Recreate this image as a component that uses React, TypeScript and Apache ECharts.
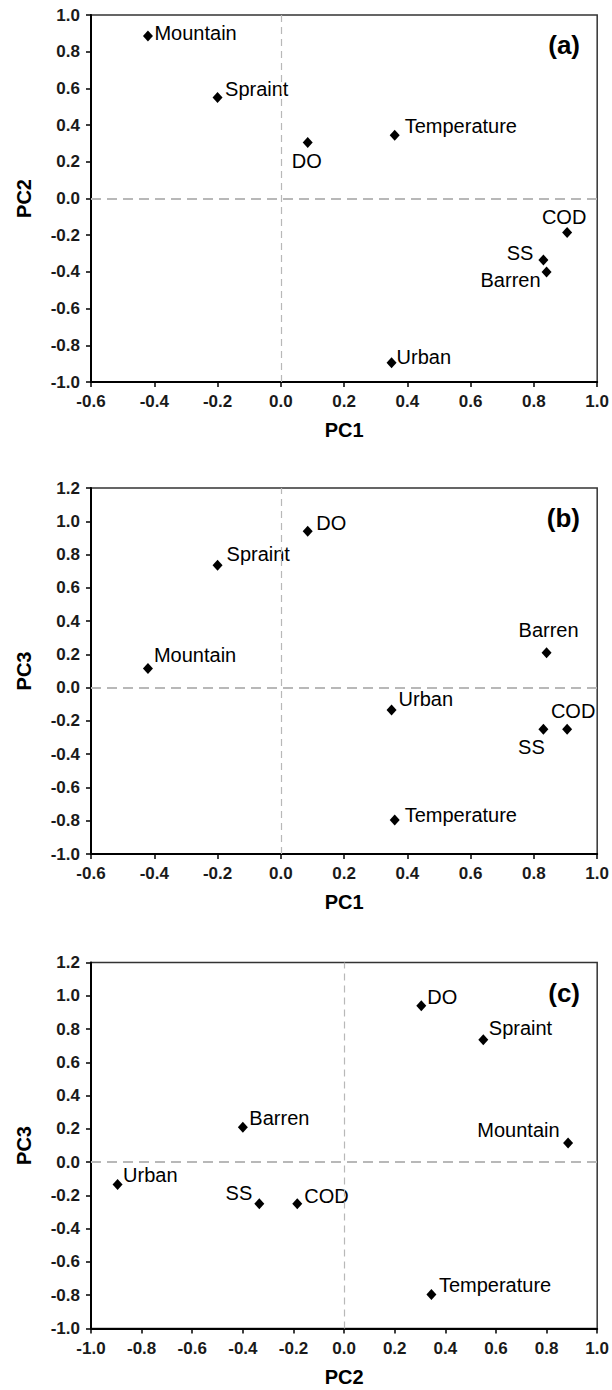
import React, { useEffect, useRef } from "react";
import * as echarts from "echarts";

// ---- Data (PCA loadings) ----
const variables = ["Mountain", "Spraint", "DO", "Temperature", "COD", "SS", "Barren", "Urban"];
const pc1 = [-0.42, -0.2, 0.085, 0.36, 0.905, 0.83, 0.84, 0.35];
const pc2 = [0.885, 0.55, 0.305, 0.345, -0.185, -0.335, -0.4, -0.895];
const pc3 = [0.115, 0.735, 0.94, -0.795, -0.25, -0.25, 0.21, -0.135];
const xTicksA = { min: -0.6, max: 1.0 };
const xTicksC = { min: -1.0, max: 1.0 };
const yTicksA = { min: -1.0, max: 1.0 };
const yTicksBC = { min: -1.0, max: 1.2 };

// ---- Label placement (style only) ----
type Place = [string, number, number, number];
const placeA: Record<string, Place> = {
  Mountain: ["right", 1.5, 0, -3],
  Spraint: ["right", 2.5, 0, -9],
  DO: ["bottom", 3, -1, 0],
  Temperature: ["right", 5, 0, -9],
  COD: ["top", 0, -3, 0],
  SS: ["left", 5, 0, -7],
  Barren: ["left", 1, 0, 8],
  Urban: ["right", 0, 0, -6],
};
const placeB: Record<string, Place> = {
  DO: ["right", 3.5, 0, -8],
  Spraint: ["right", 4, 0, -11],
  Mountain: ["right", 1, 0, -14],
  Barren: ["top", 7.5, 2, 0],
  Urban: ["right", 2, 0, -11],
  COD: ["top", 3, 6, 0],
  SS: ["bottom", 2, -12, 0],
  Temperature: ["right", 5, 0, -5],
};
const placeC: Record<string, Place> = {
  DO: ["right", 1, 0, -9],
  Spraint: ["right", 0.5, 0, -12],
  Mountain: ["left", 3.5, 0, -13],
  Barren: ["right", 1.5, 0, -9],
  Urban: ["right", 0.5, 0, -10],
  SS: ["left", 2, 0, -11],
  COD: ["right", 2, 0, -8],
  Temperature: ["right", 2.5, 0, -9],
};

const FONT = '"Liberation Sans", Arial, Helvetica, sans-serif';

const panels = [
  { tag: "(a)", xs: pc1, ys: pc2, xName: "PC1", yName: "PC2", xr: xTicksA, yr: yTicksA, place: placeA, top: 15, height: 367 },
  { tag: "(b)", xs: pc1, ys: pc3, xName: "PC1", yName: "PC3", xr: xTicksA, yr: yTicksBC, place: placeB, top: 488, height: 366 },
  { tag: "(c)", xs: pc2, ys: pc3, xName: "PC2", yName: "PC3", xr: xTicksC, yr: yTicksBC, place: placeC, top: 962.5, height: 366 },
];

const GRID_LEFT = 91;
const GRID_WIDTH = 509;

function fmt(v: number) {
  return (Math.round(v * 10) / 10).toFixed(1);
}

function axisBase(gridIndex: number, min: number, max: number, name: string, isY: boolean) {
  return {
    type: "value",
    gridIndex,
    min,
    max,
    interval: 0.2,
    name,
    nameLocation: "middle",
    nameGap: isY ? 57 : 38,
    nameTextStyle: { fontFamily: FONT, fontSize: 20, fontWeight: "bold", color: "#000" },
    axisLine: { show: true, onZero: false, lineStyle: { color: "#000", width: 2 } },
    axisTick: { show: true, inside: false, length: 5, lineStyle: { color: "#000", width: 1.5 } },
    axisLabel: {
      margin: 11,
      fontFamily: FONT,
      fontSize: 17,
      fontWeight: "bold",
      color: "#1a1a1a",
      formatter: (v: number) => fmt(v),
    },
    splitLine: { show: false },
  };
}

export default function App() {
  const ref = useRef<HTMLDivElement>(null);
  useEffect(() => {
    if (!ref.current) return;
    const chart = echarts.init(ref.current, undefined, { renderer: "svg" });
    const grids = panels.map((p) => ({
      left: GRID_LEFT,
      top: p.top,
      width: GRID_WIDTH,
      height: p.height,
      show: true,
      borderColor: "#333",
      borderWidth: 1.5,
      backgroundColor: "transparent",
      containLabel: false,
    }));
    const xAxes = panels.map((p, i) => axisBase(i, p.xr.min, p.xr.max, p.xName, false));
    const yAxes = panels.map((p, i) => axisBase(i, p.yr.min, p.yr.max, p.yName, true));
    const series = panels.map((p, i) => ({
      type: "scatter",
      xAxisIndex: i,
      yAxisIndex: i,
      symbol: "diamond",
      symbolSize: [10, 11],
      itemStyle: { color: "#000", opacity: 1 },
      data: variables.map((name, k) => {
        const pl = p.place[name];
        const isSide = pl[0] === "left" || pl[0] === "right";
        return {
          name,
          value: [p.xs[k], p.ys[k]],
          label: {
            show: true,
            position: pl[0],
            distance: pl[1],
            offset: isSide ? [0, pl[3]] : [pl[2], 0],
            formatter: "{b}",
            fontFamily: FONT,
            fontSize: 20,
            color: "#000",
            textBorderWidth: 0,
          },
        };
      }),
      markLine: {
        silent: true,
        symbol: "none",
        label: { show: false },
        data: [
          { xAxis: 0, lineStyle: { color: "#b8b8b8", type: [7, 5], width: 1.2 } },
          { yAxis: 0, lineStyle: { color: "#b8b8b8", type: [10, 6], width: 2 } },
        ],
      },
      z: 3,
    }));
    const graphic = panels.map((p) => ({
      type: "text",
      x: 580,
      y: p.top + 30,
      style: {
        text: p.tag,
        fontFamily: FONT,
        fontSize: 26,
        fontWeight: "bold",
        fill: "#000",
        align: "right",
        verticalAlign: "middle",
      },
    }));
    chart.setOption({
      animation: false,
      backgroundColor: "#fff",
      grid: grids,
      xAxis: xAxes,
      yAxis: yAxes,
      series,
      graphic,
    });
    return () => chart.dispose();
  }, []);
  return (
    <div
      ref={ref}
      style={{ position: "absolute", left: 0, top: 0, width: 612, height: 1390, background: "#fff" }}
    />
  );
}
